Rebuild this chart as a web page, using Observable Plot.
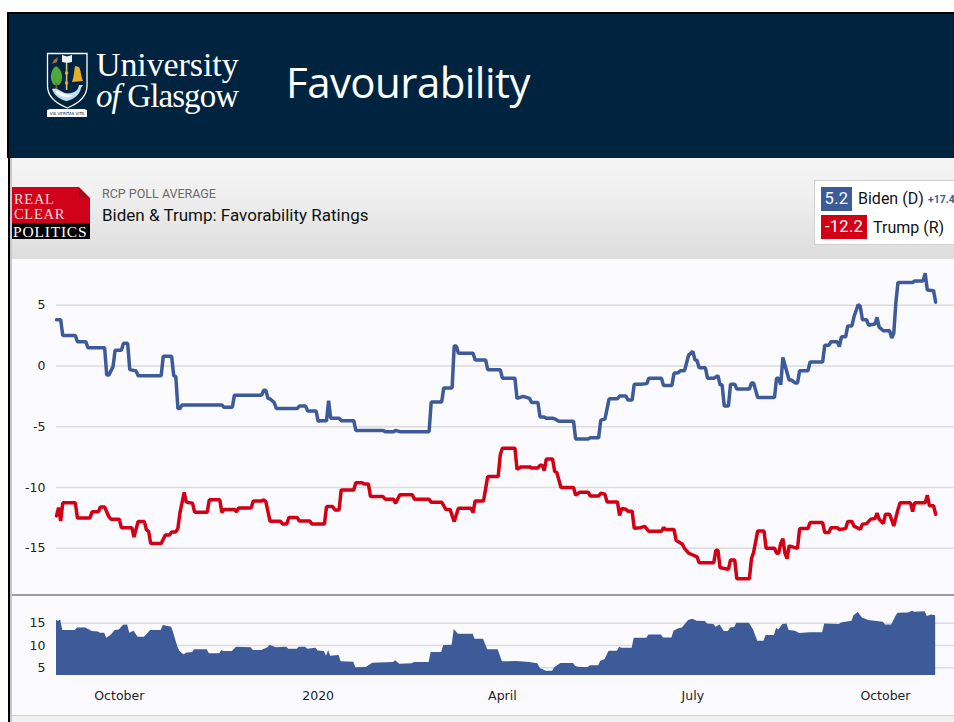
<!DOCTYPE html>
<html><head><meta charset="utf-8">
<script src="https://cdn.jsdelivr.net/npm/d3@7"></script>
<script src="https://cdn.jsdelivr.net/npm/@observablehq/plot@0.6"></script>
<style>
html,body{margin:0;padding:0;background:#fff;overflow:hidden}
#page{position:relative;width:954px;height:722px;overflow:hidden;font-family:Roboto,sans-serif}
#page>div,#page>svg{position:absolute}
svg{display:block}
</style></head><body>
<div id="page">
  <div style="left:7px;top:12px;width:947px;height:146px;background:#00233f;border-top:2px solid #000;box-sizing:border-box;border-left:2px solid #000"></div>
  <div style="left:8px;top:158px;width:2px;height:564px;background:#000"></div>
  <div style="left:10px;top:158px;width:2px;height:564px;background:#c8c8c8"></div>
  <div style="left:12px;top:158px;width:942px;height:101px;background:linear-gradient(#f5f5f5 0%,#f0f0f0 35%,#dcdcdc 100%)"></div>
  <div style="left:12px;top:259px;width:942px;height:456px;background:#fbfbff"></div>
  <div style="left:12px;top:715px;width:942px;height:7px;background:#f1f1f1;border-top:1px solid #cfcfcf;box-sizing:border-box"></div>

  <svg style="left:46px;top:52px" width="44" height="66" viewBox="0 0 44 66">
    <path d="M1.5 1.500H41V34C41 46 31 52 21.300 56C11.500 52 1.500 46 1.500 34Z" fill="#00233f" stroke="#fff" stroke-width="1.300"/>
    <path d="M10 14C4 18 3 28 8 33H13C18 28 17 18 10 14Z" fill="#4fa83d"/>
    <rect x="9.500" y="31" width="1.800" height="6" fill="#8a5a2b"/>
    <path d="M6 12L8 8L12 5L11 10Z" fill="#a0703a"/>
    <path d="M16 3L21 4.500L26 3V10L21 11L16 10Z" fill="#eef2f5"/>
    <rect x="19.800" y="11" width="1.600" height="27" fill="#d8c070"/>
    <circle cx="20.600" cy="21" r="1.700" fill="#e8ad2c"/>
    <circle cx="20.600" cy="31" r="1.700" fill="#e8ad2c"/>
    <path d="M29 14L33 15C35 18 35 25 37 29L26 30C28 25 28 19 29 14Z" fill="#e8ad2c"/>
    <path d="M6 37C12 34 16 43 25 41C30 40 32 38 33 33L37 33L35 36C34 42 29 47 21 49C14 48 8 43 6 37Z" fill="#bfe0ee"/>
    <path d="M9 39C14 38 18 44 26 43C24 46 14 46 9 39Z" fill="#fff"/>
    <path d="M1 58L4 57H38L41 58V65H1Z" fill="#fff"/>
    <text x="21" y="63" text-anchor="middle" font-family="'DejaVu Sans',sans-serif" font-size="4" fill="#00233f">VIA VERITAS VITA</text>
  </svg>
  <div style="left:96px;top:49px;color:#fff;font:34px/31px 'Liberation Serif',serif;white-space:nowrap"><span style="letter-spacing:-.1px">University</span><br><span style="font-size:33px;letter-spacing:-.9px"><i>of</i> Glasgow</span></div>
  <div style="left:286px;top:56px;color:#fff;font:42px/52px 'Open Sans',sans-serif;letter-spacing:-.55px">Favourability</div>

  <div style="left:12px;top:187px;width:78px;height:36px;background:#d0021b;overflow:hidden">
    <div style="position:absolute;right:0;top:0;width:0;height:0;border-style:solid;border-width:0 11px 11px 0;border-color:#fff #f2f2f2 #a50a1c #a50a1c"></div>
  </div>
  <div style="left:14px;top:192px;color:#f8dede;font:14.500px/15px 'Liberation Serif',serif;letter-spacing:.7px">REAL<br>CLEAR</div>
  <div style="left:12px;top:223px;width:78px;height:16px;background:#000"></div>
  <div style="left:13px;top:223px;color:#fff;font:15.500px/17px 'Liberation Serif',serif;letter-spacing:.8px;white-space:nowrap">POLITICS</div>
  <div style="left:102px;top:186px;color:#6a6a6a;font:12.500px/16px Roboto,sans-serif">RCP POLL AVERAGE</div>
  <div style="left:102px;top:205px;color:#111;font:17px/20px Roboto,sans-serif">Biden &amp; Trump: Favorability Ratings</div>

  <div style="left:814px;top:180px;width:140px;height:65px;background:#fff;border:1px solid #cfcfcf;border-right:0;box-sizing:border-box"></div>
  <div style="left:821px;top:187px;width:31px;height:24px;background:#3c5b98;color:#fff;font:16.500px/24px Roboto,sans-serif;text-align:center;letter-spacing:.3px">5.2</div>
  <div style="left:858px;top:187px;color:#111;font:16px/24px Roboto,sans-serif">Biden (D)</div>
  <div style="left:928px;top:188px;color:#3c5b98;font:bold 10.500px/24px Roboto,sans-serif;white-space:nowrap">+17.4</div>
  <div style="left:821px;top:215px;width:46px;height:24px;background:#d30015;color:#fff;font:16.500px/24px Roboto,sans-serif;text-align:center;letter-spacing:.3px">-12.2</div>
  <div style="left:873px;top:216px;color:#111;font:16px/24px Roboto,sans-serif">Trump (R)</div>

  <div id="main" style="left:0;top:259px"></div>
  <div style="left:12px;top:594px;width:942px;height:2px;background:#9c9c9c"></div>
  <div id="spread" style="left:0;top:596px"></div>
</div>
<script>
const startDate = "2019-09-01";
const xEnd = "2020-11-03";
const bidenDays = [0,2,3,9,10,14,15,23,24,25,27,28,31,32,34,35,38,39,50,51,55,56,57,58,59,60,79,80,84,85,98,99,100,101,102,104,105,115,116,119,120,124,125,
126,129,130,131,135,136,142,143,156,157,161,162,164,178,179,184,185,189,190,191,192,199,200,205,206,212,213,219,220,223,226,227,230,231,233,234,237,238,240,247,248,254,255,259,260,262,264,268,269,272,273,275,276,
279,282,283,289,290,294,295,297,298,300,302,304,305,306,307,310,311,314,316,317,318,319,321,322,324,325,331,332,333,335,343,344,345,346,347,350,351,353,354,355,359,360,366,367,369,370,373,374,375,377,378,380,381,383,384,385,387,388,391,392,393,395,398,399,400,401,402,409,410,414,415,416,419,420];
const bidenValues = [3.8,3.8,2.5,2.5,2,2,1.5,1.5,-0.75,-0.75,-0.05,1.3,1.3,1.87,1.87,-0.3,-0.4,-0.8,-0.8,0.8,0.8,-0.8,-0.85,-3.5,-3.5,-3.2,-3.2,-3.4,-3.4,-2.4,-2.4,-2,-2,-2.65,-2.7,-3,-3.5,-3.5,-3.3,-3.3,-3.7,-3.7,-4.55,
-4.5,-4.5,-2.85,-4.3,-4.3,-4.5,-4.5,-5.3,-5.3,-5.4,-5.4,-5.3,-5.4,-5.4,-2.97,-2.97,-1.8,-1.8,1.65,1.65,1.05,1.05,0.5,0.5,-0.3,-0.3,-1,-1,-2.67,-2.5,-2.67,-3,-3,-4.2,-4.2,-4.3,-4.3,-4.35,-4.55,-4.55,-6,-6,-5.9,-5.9,-4.45,-4.37,-2.7,-2.7,-2.47,-2.47,-2.8,-2.8,-1.5,
-1.5,-1.45,-1,-1,-1.6,-1.6,-0.6,-0.55,-0.4,-0.4,0.9,1.2,0.5,0.45,-0.15,-0.15,-1,-1,-0.8,-1.55,-1.55,-3.3,-3.3,-1.5,-1.5,-1.9,-1.9,-1.4,-1.4,-2.6,-2.6,-1,-1,-1.55,0.7,-1.15,-1.15,-1.4,-1.4,-0.4,-0.4,0.33,0.33,1.7,1.7,2,2,1.6,2.4,2.4,3.3,3.3,4.07,5.05,4.9,3.8,3.8,3.35,3.45,4,3.2,2.9,2.9,2.3,2.7,5.25,6.87,6.87,7,7,7.64,6.26,6.2,5.25];
const trumpDays = [0,1,2,3,9,10,16,17,20,21,23,25,26,30,31,36,37,39,42,43,44,45,50,52,54,55,57,58,59,61,62,65,66,72,73,78,79,80,85,86,87,93,94,98,99,100,102,107,108,110,111,115,116,121,122,126,
128,129,132,133,135,136,142,143,146,147,149,150,156,157,161,162,164,170,171,178,179,184,186,188,190,192,198,199,200,204,206,211,212,213,219,220,222,226,227,230,231,232,233,234,237,238,239,241,247,248,250,254,255,259,260,262,263,268,269,270,272,273,275,276,
279,281,283,289,290,291,295,296,299,300,302,304,306,307,314,315,316,317,321,322,324,325,331,332,333,335,338,339,343,344,345,346,347,348,349,350,354,355,359,360,366,367,369,370,373,374,377,378,380,381,384,385,387,389,391,392,393,395,396,398,400,402,403,408,409,410,415,416,417,419,420];
const trumpValues = [-12.33,-11.65,-12.75,-11.26,-11.26,-12.5,-12.5,-12,-12,-11.6,-11.6,-12.4,-12.6,-12.6,-13.3,-13.3,-14.07,-12.8,-12.8,-13.5,-13.6,-14.6,-14.6,-13.9,-13.9,-13.65,-13.65,-13.35,-12.06,-10.4,-11.2,-11.3,-12.03,-12.03,-11,-11,-12.06,-11.8,-11.8,-12,-11.68,-11.68,-11.1,-11.1,-11,-11.15,-12.77,-12.77,-13,-13,-12.47,-12.47,-12.75,-12.75,-13,-13,
-13,-11.57,-11.57,-11.84,-11.84,-10.2,-10.2,-9.6,-9.6,-9.7,-9.7,-10.74,-10.74,-10.96,-10.96,-11.3,-10.6,-10.6,-10.96,-10.96,-11.2,-11.2,-11.8,-11.8,-12.8,-11.7,-11.7,-12.06,-11.1,-11.1,-9.1,-9.1,-7.3,-6.76,-6.76,-8.5,-8.3,-8.3,-8.4,-8.4,-8.16,-8.16,-8.6,-7.66,-7.66,-8.68,-8.76,-10,-10,-10.63,-10.38,-10.38,-10.69,-10.69,-10.47,-10.55,-11.18,-11.18,-12.3,-11.73,-11.78,-11.95,-11.95,-13.35,
-13.3,-13.2,-13.6,-13.6,-13.3,-13.46,-13.46,-14.34,-14.67,-15,-15.4,-15.55,-15.7,-16.18,-16.18,-15.16,-15.16,-16.6,-16.73,-15.96,-15.96,-17.5,-17.5,-15.85,-15.36,-13.57,-13.57,-15,-15,-15.4,-15.4,-14.6,-14.2,-15.4,-15.85,-14.8,-15,-13.38,-13.38,-12.88,-12.88,-13.7,-13.7,-13.3,-13.3,-13.46,-13.38,-12.8,-12.8,-13.18,-13.43,-13.02,-12.97,-12.6,-12.55,-12.1,-12.6,-12.97,-12.2,-12.2,-13.16,-11.8,-11.26,-11.26,-11.98,-11.26,-11.26,-10.63,-11.5,-11.5,-12.2];
const spreadDays = [0,1,2,3,9,10,14,17,20,21,23,24,26,28,30,32,34,35,37,39,42,45,50,51,55,56,58,59,61,62,65,66,72,73,78,79,80,84,86,93,94,98,101,102,105,110,111,115,116,119,120,124,125,128,129,130,131,135,136,142,143,148,151,161,162,164,170,171,178,179,184,185,189,190,192,199,200,
204,206,211,213,220,226,230,231,234,237,238,241,247,248,250,254,255,259,260,262,264,268,269,270,275,276,282,283,289,290,294,295,297,299,302,304,306,310,311,314,315,317,319,321,322,324,325,331,333,335,338,339,343,344,345,347,349,350,353,355,360,366,367,374,375,380,381,383,385,388,395,396,399,401,402,407,409,410,415,416,418,420];
const spreadValues = [15.6,15.45,15.75,13.36,13.36,13.96,13.96,13.13,13.06,12.76,12.76,11.64,12.24,13.36,13.5,14.55,14.63,12.76,13.2,11.87,11.87,13.36,13.36,14.48,14.1,12.76,9.63,8.66,7.9,8.28,8.43,9.03,9.03,8.13,8.13,8.88,8.66,8.66,9.63,9.48,8.88,8.88,9.48,10.07,9.48,9.63,9.18,9.18,9.63,9.63,9.18,9.4,8.8,8.66,7.6,8.88,7.6,7.76,6.34,6.27,5,5.07,6.04,6.2,6.57,5.82,5.9,6.2,6.2,8.43,8.43,10,10.07,13.58,12.54,12.54,11.42,
11.42,9.03,9.03,6.34,6.42,6.2,5.9,4.93,4.25,4.25,5,5.97,5.97,5.3,5.07,5.07,5.45,5.45,6.5,6.8,8.73,8.73,9.63,9.4,9.4,11.64,11.64,12.39,12.39,11.7,11.7,13.2,13.73,13.96,15.6,15.9,15.45,15.37,14.85,14.7,14.1,14.63,13.13,13.13,13.96,14.03,15,15,13.5,10.97,10.97,12.24,12.24,13.88,13.5,14.7,14.85,13.36,13.2,12.69,12.84,12.84,14.85,14.7,15.07,15.45,16.7,17.39,16.2,15.6,15.22,14.63,14.63,16.49,17.24,17.3,17.69,17.46,17.6,16.49,16.87,16.7];
const mainTicks = [-15,-10,-5,0,5];
const spreadTicks = [5,10,15];
const monthTicks = ["2019-10-01","2020-01-04","2020-04-01","2020-07-01","2020-10-01"];
const monthLabels = ["October","2020","April","July","October"];
const bidenColor = "#3c5b98", trumpColor = "#d30015";

const start = new Date(startDate);
const toDate = d => d3.utcDay.offset(start, d);
const table = (days, values) => days.map((d, i) => ({date: toDate(d), value: values[i]}));
const biden = table(bidenDays, bidenValues);
const trump = table(trumpDays, trumpValues);
const spread = table(spreadDays, spreadValues);
const xDomain = [start, new Date(xEnd)];
const font = "'DejaVu Sans',sans-serif";
const tickDates = monthTicks.map(s => new Date(s));
const plain = d => String(d);

const main = Plot.plot({
  width: 954, height: 336, marginLeft: 56, marginRight: 0, marginTop: 1, marginBottom: 1,
  style: {background: "transparent", fontFamily: font, color: "#222", overflow: "visible"},
  x: {domain: xDomain, axis: null},
  y: {domain: [-18.8, 8.68]},
  marks: [
    Plot.gridY(mainTicks, {stroke: "#dcdcdc", strokeOpacity: 1, strokeWidth: 1.5}),
    Plot.axisY({ticks: mainTicks, tickFormat: plain, tickSize: 0, tickPadding: 11, label: null, fontSize: 12.5}),
    Plot.line(biden, {x: "date", y: "value", stroke: bidenColor, strokeWidth: 3.5, strokeLinejoin: "miter"}),
    Plot.line(trump, {x: "date", y: "value", stroke: trumpColor, strokeWidth: 3.5, strokeLinejoin: "miter"})
  ]
});
document.getElementById("main").append(main);

const bottom = Plot.plot({
  width: 954, height: 119, marginLeft: 56, marginRight: 0, marginTop: 4, marginBottom: 40,
  style: {background: "transparent", fontFamily: font, color: "#222", overflow: "visible"},
  x: {domain: xDomain},
  y: {domain: [3.28, 20.1]},
  marks: [
    Plot.gridY(spreadTicks, {stroke: "#dcdcdc", strokeOpacity: 1, strokeWidth: 1.5}),
    Plot.axisY({ticks: spreadTicks, tickFormat: plain, tickSize: 0, tickPadding: 11, label: null, fontSize: 12.5}),
    Plot.axisX({ticks: tickDates, tickFormat: (d, i) => monthLabels[i], tickSize: 0, tickPadding: 16, label: null, fontSize: 12.5}),
    Plot.areaY(spread, {x: "date", y1: 3.28, y2: "value", fill: bidenColor, fillOpacity: 1})
  ]
});
document.getElementById("spread").append(bottom);
</script>
</body></html>
